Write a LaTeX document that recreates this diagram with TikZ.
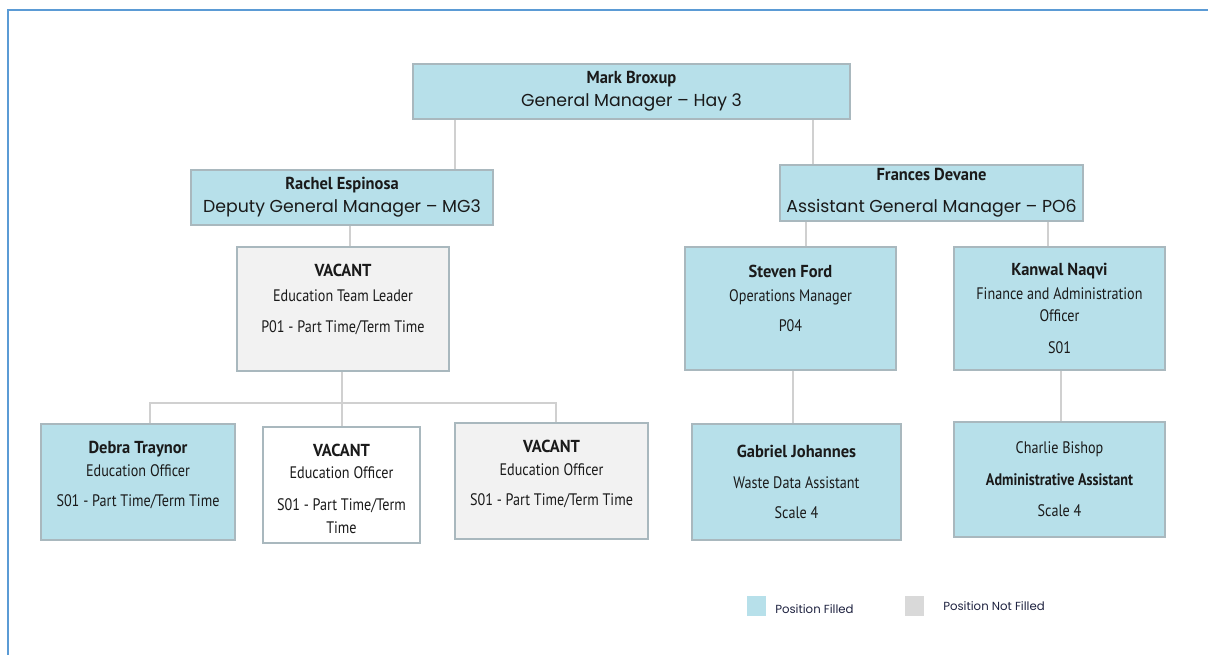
\documentclass[tikz,border=0pt]{standalone}
\usepackage{fontspec}
\setmainfont{Poppins}
\newfontfamily\twcen[FakeStretch=0.85]{PT Sans}
\newfontfamily\twname[FakeStretch=0.95]{PT Sans}
\usetikzlibrary{positioning}

\definecolor{filled}{HTML}{B7E0EA}
\definecolor{vacant}{HTML}{F2F2F2}
\definecolor{boxline}{HTML}{A9B8BE}
\definecolor{linkgray}{HTML}{D0D0D0}
\definecolor{framecol}{HTML}{5B9BD5}
\definecolor{keygray}{HTML}{D9D9D9}
\definecolor{ink}{HTML}{1A1A1A}
\definecolor{keyink}{HTML}{1E2240}

\newcommand{\gothic}{\rmfamily\fontsize{13}{17}\selectfont}
\newcommand{\who}{\twname\bfseries\fontsize{13}{17}\selectfont}
\newcommand{\sink}[1]{\rule[-#1]{0pt}{0pt}}
\newcommand{\lift}[1]{\rule{0pt}{#1}}

\tikzset{
  post/.style={draw=boxline, line width=1.2pt, fill=filled, text=ink,
    align=center, inner sep=0pt, font=\twcen\fontsize{12.5}{17}\selectfont},
  open/.style={post, fill=vacant},
  blank/.style={post, fill=white},
  boxsize/.style 2 args={minimum width=#1, minimum height=#2},
  link/.style={draw=linkgray, line width=0.9pt},
  frame/.style={draw=framecol, line width=1.6pt},
  key/.style={minimum width=14.25pt, minimum height=15pt, inner sep=0pt},
  keytext/.style={anchor=west, inner sep=0pt, text=keyink,
    font=\rmfamily\fontsize{8.8}{10}\selectfont},
}

\begin{document}
\begin{tikzpicture}[x=0.75pt,y=-0.75pt]
  \useasboundingbox (0,0) rectangle (1208,655);
  \draw[frame] (8,655) -- (8,10) -- (1208,10);

  % top
  \node[post, boxsize={327.75pt}{41.25pt}] (mark) at (631.5,91.5)
    {{\who Mark Broxup}\\{\gothic General Manager – Hay 3}};

  % second row
  \node[post, boxsize={226.5pt}{41.25pt}] (rachel) at (342,197.5)
    {{\who Rachel Espinosa}\\{\gothic Deputy General Manager – MG3}};
  \node[post, boxsize={227.25pt}{42pt}] (frances) at (931.5,193)
    {{\who Frances Devane}\\[7pt]{\gothic Assistant General Manager – PO6}};

  % third row
  \node[open, boxsize={159pt}{93pt}] (teamlead) at (343,309)
    {{\who VACANT}\\[1.5pt]Education Team Leader\\[6pt]P01 - Part Time/Term Time\sink{16pt}};
  \node[post, boxsize={158.25pt}{92.25pt}] (steven) at (790.5,308.5)
    {{\who Steven Ford}\\[1pt]Operations Manager\\[5.5pt]P04\sink{16pt}};
  \node[post, boxsize={158.25pt}{92.25pt}] (kanwal) at (1059.5,308.5)
    {{\who Kanwal Naqvi}\\[1pt]Finance and Administration\\Officer\\[7pt]S01};

  % bottom row
  \node[post, boxsize={145.5pt}{87pt}] (debra) at (138,482)
    {{\who Debra Traynor}\\Education Officer\\[6pt]S01 - Part Time/Term Time\sink{12pt}};
  \node[blank, boxsize={117.75pt}{87pt}] (vacantb) at (341.5,485)
    {{\who\lift{15pt}VACANT}\\Education Officer\\[7pt]S01 - Part Time/Term\\Time};
  \node[open, boxsize={144.75pt}{87pt}] (vacantc) at (551.5,481)
    {{\who VACANT}\\Education Officer\\[6pt]S01 - Part Time/Term Time\sink{12pt}};
  \node[post, boxsize={156.75pt}{87pt}] (gabriel) at (796.5,482)
    {{\who Gabriel Johannes}\\[6pt]Waste Data Assistant\\[6pt]Scale 4};
  \node[post, boxsize={158.25pt}{86.25pt}] (charlie) at (1059.5,479.5)
    {Charlie Bishop\\[7pt]{\bfseries Administrative Assistant}\\[6pt]Scale 4};

  % drop points
  \coordinate (c1) at (455,0);
  \coordinate (c2) at (813,0);
  \coordinate (c3) at (350,0);
  \coordinate (c4) at (806,0);
  \coordinate (c5) at (1048,0);
  \coordinate (c6) at (793,0);
  \coordinate (c7) at (1061,0);
  \coordinate (bar) at (342,403);
  \coordinate (drop1) at (150,403);
  \coordinate (drop3) at (556,403);

  \draw[link] (c1 |- mark.south) -- (c1 |- rachel.north);
  \draw[link] (c2 |- mark.south) -- (c2 |- frances.north);
  \draw[link] (c3 |- rachel.south) -- (c3 |- teamlead.north);
  \draw[link] (bar |- teamlead.south) -- (bar);
  \draw[link] (drop1 |- debra.north) -- (drop1) -- (drop3) -- (drop3 |- vacantc.north);
  \draw[link] (bar) -- (bar |- vacantb.north);
  \draw[link] (c4 |- frances.south) -- (c4 |- steven.north);
  \draw[link] (c5 |- frances.south) -- (c5 |- kanwal.north);
  \draw[link] (c6 |- steven.south) -- (c6 |- gabriel.north);
  \draw[link] (c7 |- kanwal.south) -- (c7 |- charlie.north);

  % key
  \node[key, fill=filled] (keyfilled) at (756.5,606) {};
  \node[keytext] (keyfilledtext) at (775,609) {Position Filled};
  \node[key, fill=keygray] (keyopen) at (914.5,606) {};
  \node[keytext] (keyopentext) at (943,606) {Position Not Filled};
\end{tikzpicture}
\end{document}
